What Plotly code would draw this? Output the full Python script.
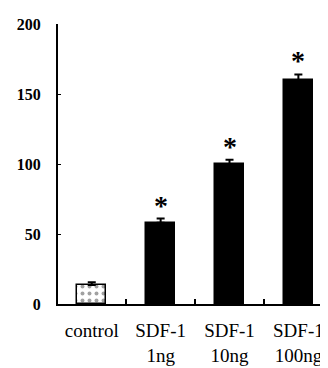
import plotly.graph_objects as go

categories = ["control", "SDF-1<br>1ng", "SDF-1<br>10ng", "SDF-1<br>100ng"]
values = [13.5, 58, 100, 160]
errors = [2, 3, 3, 4]
significant = [False, True, True, True]
y_ticks = [0, 50, 100, 150, 200]

xpos = list(range(len(categories)))

fig = go.Figure()
fig.add_trace(go.Bar(
    x=xpos, y=values, width=0.42,
    marker=dict(
        color=["white", "black", "black", "black"],
        line=dict(color="black", width=1.5),
        pattern=dict(shape=[".", "", "", ""], fgcolor="black", bgcolor="white", size=7, solidity=0.25),
    ),
    error_y=dict(type="data", symmetric=False, array=errors, arrayminus=[0]*len(errors),
                 color="black", thickness=2, width=4),
    showlegend=False,
))

for x, v, e, s in zip(xpos, values, errors, significant):
    if s:
        fig.add_annotation(x=x, y=v + e, text="<b>*</b>", showarrow=False,
                           yanchor="bottom", yshift=-4,
                           font=dict(family="Liberation Serif", size=28, color="black"))

fig.update_layout(
    width=320, height=360,
    margin=dict(l=50, r=0, t=16, b=64),
    paper_bgcolor="white", plot_bgcolor="white",
    bargap=0,
)
fig.update_xaxes(
    range=[-0.49, 3.43], tickvals=xpos, ticktext=categories,
    showline=True, linecolor="black", linewidth=2, ticks="",
    showgrid=False, zeroline=False,
    tickfont=dict(family="Liberation Serif", size=19, color="black"),
    ticklabelstandoff=8,
    minor=dict(tickvals=[0.5, 1.5, 2.5], ticks="inside", ticklen=5, tickcolor="black", tickwidth=1.5),
)
fig.update_yaxes(
    range=[0, 200], tickvals=y_ticks, ticktext=[f"<b>{t}</b>" for t in y_ticks],
    showline=True, linecolor="black", linewidth=2, ticks="inside", ticklen=3, tickcolor="black",
    showgrid=False, zeroline=False,
    tickfont=dict(family="Liberation Serif", size=16, color="black"),
    ticklabelstandoff=12,
)
fig.write_html("out.html")
